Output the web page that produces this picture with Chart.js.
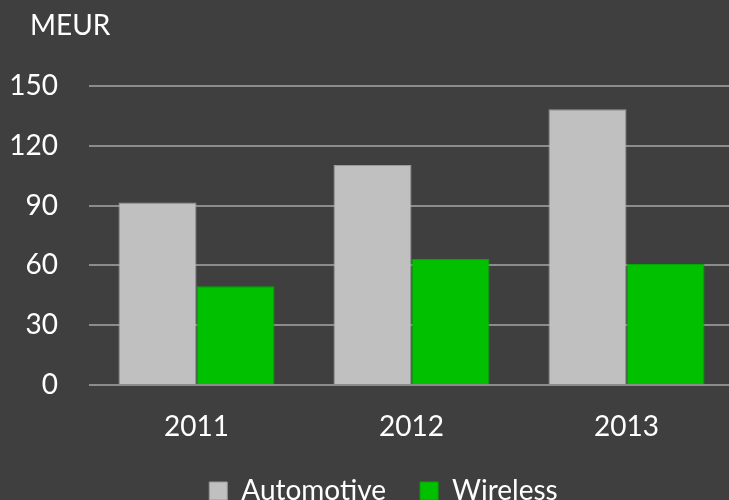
<!DOCTYPE html>
<html>
<head>
<meta charset="utf-8">
<script src="https://cdn.jsdelivr.net/npm/chart.js@4"></script>
<style>
  html, body { margin: 0; padding: 0; background: #3f3f3f; overflow: hidden; width: 729px; height: 500px; }
  #wrap { position: absolute; left: 0; top: 0; width: 740px; height: 515px; }
  #unit { position: absolute; left: 30px; top: 10px; font-family: Lato, "Open Sans", sans-serif; font-size: 28px; line-height: 28px; color: #ffffff; }
</style>
</head>
<body>
<div id="wrap"><canvas id="c"></canvas></div>
<div id="unit">MEUR</div>
<script>
const categories = ["2011", "2012", "2013"];
const automotive = [91.5, 110.4, 138.3];
const wireless = [49.5, 63.2, 60.7];
const seriesNames = ["Automotive", "Wireless"];
const yTicks = [0, 30, 60, 90, 120, 150];

const FONT = { family: "Lato, 'Open Sans', sans-serif", size: 28 };

// let the y-axis labels use the space left of the axis box (no clipping)
const unclipY = {
  id: 'unclipY',
  afterLayout(chart) { chart.scales.y.left = 0; }
};

new Chart(document.getElementById('c'), {
  type: 'bar',
  data: {
    labels: categories,
    datasets: [
      { label: seriesNames[0], data: automotive, backgroundColor: '#c0c0c0', borderColor: '#9a9a9a', borderWidth: 1 },
      { label: seriesNames[1], data: wireless, backgroundColor: '#00c000', borderColor: '#00a800', borderWidth: 1 }
    ]
  },
  plugins: [unclipY],
  options: {
    responsive: true,
    maintainAspectRatio: false,
    animation: false,
    devicePixelRatio: 1,
    layout: { padding: { top: 86, left: 33, right: 6, bottom: 0 } },
    datasets: { bar: { categoryPercentage: 0.7256, barPercentage: 1.0 } },
    scales: {
      x: {
        grid: { display: false },
        border: { display: false },
        afterFit: (scale) => { scale.height = 58; },
        ticks: { color: '#ffffff', font: FONT, padding: 17 }
      },
      y: {
        min: 0, max: 150,
        afterBuildTicks: (scale) => { scale.ticks = yTicks.map(v => ({ value: v })); },
        afterFit: (scale) => { scale.width = 56; },
        grid: { color: '#8c8c8c', lineWidth: 2, drawTicks: false },
        border: { display: false },
        ticks: { color: '#ffffff', font: FONT, padding: 31 }
      }
    },
    plugins: {
      legend: {
        position: 'bottom',
        labels: { color: '#ffffff', font: FONT, boxWidth: 18, boxHeight: 18, padding: 34 }
      },
      tooltip: { enabled: false }
    }
  }
});
</script>
</body>
</html>
